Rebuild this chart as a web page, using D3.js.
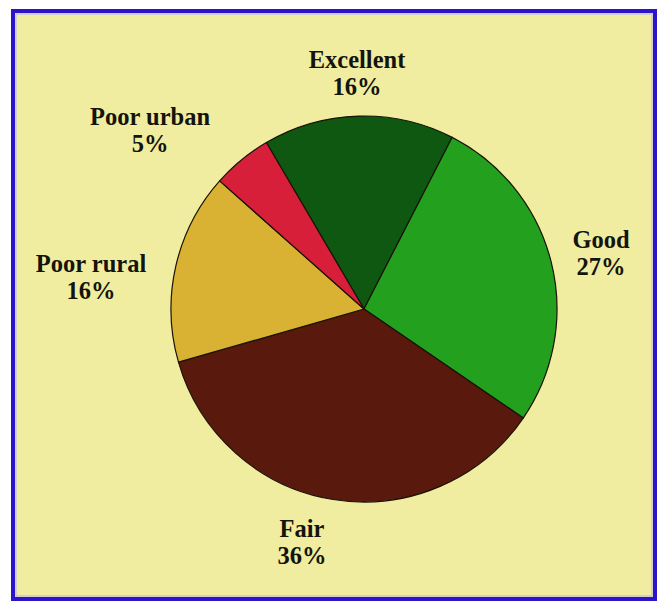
<!DOCTYPE html>
<html>
<head>
<meta charset="utf-8">
<script src="https://cdn.jsdelivr.net/npm/d3@7"></script>
<style>
  html, body { margin: 0; padding: 0; background: #ffffff; }
  svg { display: block; }
</style>
</head>
<body>
<svg id="chart" width="659" height="603"></svg>
<script>
// Data
const categories = ["Excellent", "Good", "Fair", "Poor rural", "Poor urban"];
const values = [16, 27, 36, 16, 5];
const colors = ["#0e5812", "#23a01d", "#5a190d", "#d9b233", "#d81f3a"];
// label anchor positions (centre x, baseline of first line)
const labelX = [357, 601, 302, 91, 150];
const labelY = [68, 248, 537, 272, 125];

const svg = d3.select("#chart");

// frame
svg.append("rect")
  .attr("x", 13).attr("y", 11)
  .attr("width", 642).attr("height", 588)
  .attr("fill", "#f0eda0")
  .attr("stroke", "#2c14c8")
  .attr("stroke-width", 4);
svg.append("rect")
  .attr("x", 16).attr("y", 14)
  .attr("width", 636).attr("height", 582)
  .attr("fill", "none")
  .attr("stroke", "#c9c2e0")
  .attr("stroke-width", 1.5);

const cx = 364, cy = 309, r = 193;
const startA = -30.4 * Math.PI / 180;

const pie = d3.pie()
  .sort(null)
  .value(d => d.v)
  .startAngle(startA)
  .endAngle(startA + 2 * Math.PI);

const arc = d3.arc().innerRadius(0).outerRadius(r);

const data = categories.map((c, i) => ({ c, v: values[i], col: colors[i], i }));

const g = svg.append("g").attr("transform", `translate(${cx},${cy})`);
g.selectAll("path")
  .data(pie(data))
  .join("path")
  .attr("d", arc)
  .attr("fill", d => d.data.col)
  .attr("stroke", "#1a1208")
  .attr("stroke-width", 1.2)
  .attr("stroke-linejoin", "round");

// labels
const lab = svg.append("g")
  .attr("font-family", "'Liberation Serif', 'Times New Roman', serif")
  .attr("font-weight", "bold")
  .attr("font-size", 24.5)
  .attr("fill", "#14140c")
  .attr("text-anchor", "middle");

data.forEach((d, i) => {
  const t = lab.append("text").attr("x", labelX[i]).attr("y", labelY[i]);
  t.append("tspan").attr("x", labelX[i]).attr("dy", 0).text(d.c);
  t.append("tspan").attr("x", labelX[i]).attr("dy", 27).text(d.v + "%");
});
</script>
</body>
</html>
